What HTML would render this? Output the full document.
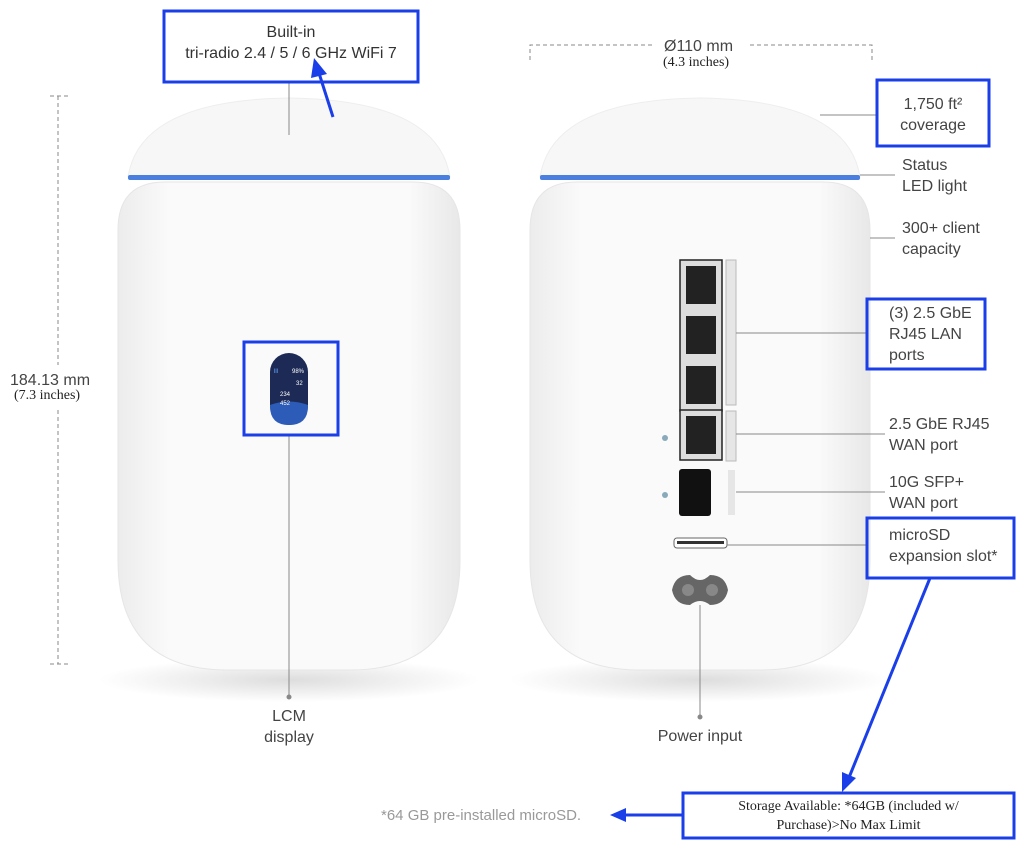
<!DOCTYPE html>
<html><head><meta charset="utf-8"><style>
body{margin:0;width:1024px;height:856px;background:#fff;position:relative;overflow:hidden;font-family:"Liberation Sans",sans-serif;}
.t{position:absolute;color:#444;font-size:16px;line-height:21px;}
.s{position:absolute;font-family:"Liberation Serif",serif;color:#222;}
</style></head><body>
<svg width="1024" height="856" style="position:absolute;left:0;top:0">
<defs>
<linearGradient id="bd" x1="0" x2="1" y1="0" y2="0"><stop offset="0" stop-color="#ececec"/><stop offset="0.15" stop-color="#fafafa"/><stop offset="0.85" stop-color="#fafafa"/><stop offset="1" stop-color="#e8e8e8"/></linearGradient>
<radialGradient id="sh" cx="0.5" cy="0.5" r="0.5"><stop offset="0" stop-color="#ddd"/><stop offset="1" stop-color="#fff"/></radialGradient>
</defs>
<!-- shadows -->
<ellipse cx="289" cy="680" rx="190" ry="22" fill="url(#sh)"/>
<ellipse cx="700" cy="680" rx="190" ry="22" fill="url(#sh)"/>
<!-- left device -->
<path d="M118 230 Q118 182 165 182 L413 182 Q460 182 460 230 L460 560 Q460 670 350 670 L228 670 Q118 670 118 560 Z" fill="url(#bd)" stroke="#e6e6e6"/>
<path d="M128 177 Q140 100 289 98 Q438 100 450 177 Z" fill="#f7f7f7" stroke="#eee"/>
<rect x="128" y="175" width="322" height="5" rx="2" fill="#4a7fe0"/>
<!-- right device -->
<path d="M530 230 Q530 182 577 182 L823 182 Q870 182 870 230 L870 560 Q870 670 760 670 L640 670 Q530 670 530 560 Z" fill="url(#bd)" stroke="#e6e6e6"/>
<path d="M540 177 Q552 100 700 98 Q848 100 860 177 Z" fill="#f7f7f7" stroke="#eee"/>
<rect x="540" y="175" width="320" height="5" rx="2" fill="#4a7fe0"/>
<!-- LCM screen -->
<rect x="270" y="353" width="38" height="72" rx="19" fill="#1c2a55"/>
<path d="M270 405 Q289 398 308 405 L308 406 Q308 425 289 425 Q270 425 270 406Z" fill="#2c5bb8"/>
<text x="274" y="373" font-size="6" fill="#6af">lll</text><text x="292" y="373" font-size="6" fill="#fff">98%</text>
<text x="296" y="385" font-size="6" fill="#fff">32</text>
<text x="280" y="396" font-size="6" fill="#fff">234</text><text x="280" y="405" font-size="6" fill="#fff">452</text>
<!-- ports -->
<rect x="680" y="260" width="42" height="151" fill="#ddd" stroke="#222" stroke-width="1.5"/>
<g fill="#222"><rect x="686" y="266" width="30" height="38"/><rect x="686" y="316" width="30" height="38"/><rect x="686" y="366" width="30" height="38"/><rect x="686" y="416" width="30" height="38"/></g>
<rect x="680" y="410" width="42" height="50" fill="#ddd" stroke="#222" stroke-width="1.5"/>
<rect x="686" y="416" width="30" height="38" fill="#222"/>
<rect x="679" y="469" width="32" height="47" rx="3" fill="#111"/>
<rect x="674" y="538" width="53" height="10" rx="3" fill="#fff" stroke="#666"/>
<rect x="677" y="541" width="47" height="3" fill="#333"/>
<rect x="726" y="260" width="10" height="145" fill="#e6e6e6" stroke="#bbb"/>
<rect x="726" y="411" width="10" height="50" fill="#e6e6e6" stroke="#bbb"/>
<rect x="728" y="470" width="7" height="45" fill="#e6e6e6"/>
<circle cx="665" cy="438" r="3" fill="#8ab"/><circle cx="665" cy="495" r="3" fill="#8ab"/>
<path d="M690 575 Q700 585 710 575 Q725 575 728 590 Q725 605 710 605 Q700 597 690 605 Q675 605 672 590 Q675 575 690 575Z" fill="#666"/>
<circle cx="688" cy="590" r="6" fill="#888"/><circle cx="712" cy="590" r="6" fill="#888"/>
<!-- grey leader lines -->
<g stroke="#888" stroke-width="1" fill="none">
<path d="M289 82 V135"/><path d="M289 436 V695"/><circle cx="289" cy="697" r="2" fill="#888"/>
<path d="M700 605 V715"/><circle cx="700" cy="717" r="2" fill="#888"/>
<path d="M820 115 H876"/><path d="M860 175 H895"/><path d="M870 238 H895"/>
<path d="M736 333 H866"/><path d="M736 434 H885"/><path d="M736 492 H885"/><path d="M727 545 H866"/>
<path d="M50 96 H68 M50 664 H68 M58 96 V365 M58 410 V664" stroke-dasharray="4 3"/>
<path d="M530 60 V45 H655 M750 45 H872 V60" stroke-dasharray="4 3"/>
</g>
<!-- blue boxes -->
<g stroke="#1a3fe8" stroke-width="3" fill="none">
<rect x="164" y="11" width="254" height="71"/>
<rect x="244" y="342" width="94" height="93"/>
<rect x="877" y="80" width="112" height="66"/>
<rect x="867" y="299" width="118" height="70"/>
<rect x="867" y="518" width="147" height="60"/>
<rect x="683" y="793" width="331" height="45"/>
<path d="M333 117 L318 70"/><path d="M930 578 L848 780"/><path d="M683 815 L620 815"/>
</g>
<g fill="#1a3fe8">
<path d="M314 58 L327 74 L311 78Z"/>
<path d="M842 792 L842 772 L856 778Z"/>
<path d="M610 815 L626 808 L626 822Z"/>
</g>
</svg>
<div class="t" style="left:164px;top:22px;width:254px;text-align:center;color:#333">Built-in<br>tri-radio 2.4 / 5 / 6 GHz WiFi 7</div>
<div class="t" style="left:250px;top:706px;width:78px;text-align:center">LCM<br>display</div>
<div class="t" style="left:640px;top:726px;width:120px;text-align:center">Power input</div>
<div class="t" style="left:877px;top:94px;width:112px;text-align:center">1,750 ft²<br>coverage</div>
<div class="t" style="left:902px;top:155px">Status<br>LED light</div>
<div class="t" style="left:902px;top:218px">300+ client<br>capacity</div>
<div class="t" style="left:889px;top:303px">(3) 2.5 GbE<br>RJ45 LAN<br>ports</div>
<div class="t" style="left:889px;top:414px">2.5 GbE RJ45<br>WAN port</div>
<div class="t" style="left:889px;top:472px">10G SFP+<br>WAN port</div>
<div class="t" style="left:889px;top:525px">microSD<br>expansion slot*</div>
<div class="t" style="left:381px;top:805px;color:#999;font-size:15px">*64 GB pre-installed microSD.</div>
<div class="t" style="left:10px;top:370px;font-size:16px">184.13 mm</div>
<div class="s" style="left:14px;top:388px;font-size:14px">(7.3 inches)</div>
<div class="t" style="left:664px;top:36px;font-size:16px">Ø110 mm</div>
<div class="s" style="left:663px;top:55px;font-size:14px">(4.3 inches)</div>
<div class="s" style="left:683px;top:797px;width:331px;text-align:center;font-size:14px;line-height:19px">Storage Available: *64GB (included w/<br>Purchase)&gt;No Max Limit</div>
</body></html>
